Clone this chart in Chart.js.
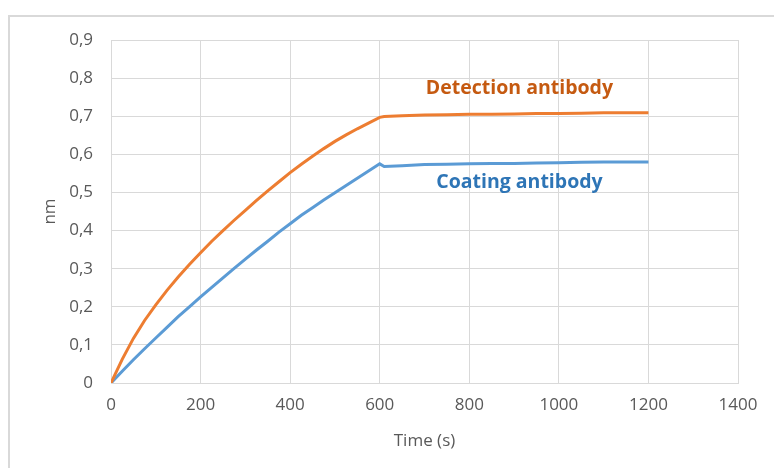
<!DOCTYPE html>
<html>
<head>
<meta charset="utf-8">
<script src="https://cdn.jsdelivr.net/npm/chart.js@4.4.1/dist/chart.umd.min.js"></script>
<style>
  html, body { margin: 0; padding: 0; background: #ffffff; }
  #wrap { position: relative; width: 774px; height: 468px; overflow: hidden; }
  #frame { position: absolute; left: 8px; top: 15px; width: 900px; height: 600px;
           border-top: 2px solid #d9d9d9; border-left: 2px solid #d9d9d9; box-sizing: border-box; }
  canvas { position: absolute; left: 0; top: 0; }
</style>
</head>
<body>
<div id="wrap">
  <div id="frame"></div>
  <canvas id="c" width="774" height="468"></canvas>
</div>
<script>
// Time (s)
const timeSec = [0, 25, 50, 75, 100, 125, 150, 175, 200, 225, 250, 275, 300, 325, 350, 375, 400, 425, 450, 475, 500, 525, 550, 575, 600, 610, 650, 700, 750, 800, 850, 900, 950, 1000, 1050, 1100, 1150, 1200];
// Detection antibody (nm)
const detection = [0, 0.062, 0.117, 0.164, 0.205, 0.243, 0.278, 0.311, 0.342, 0.372, 0.4, 0.427, 0.453, 0.479, 0.504, 0.528, 0.552, 0.574, 0.595, 0.615, 0.634, 0.651, 0.667, 0.682, 0.697, 0.699, 0.701, 0.703, 0.704, 0.705, 0.705, 0.706, 0.707, 0.707, 0.708, 0.709, 0.709, 0.709];
// Coating antibody (nm)
const coating = [0, 0.031, 0.061, 0.09, 0.118, 0.146, 0.174, 0.2, 0.226, 0.251, 0.276, 0.301, 0.325, 0.349, 0.372, 0.396, 0.418, 0.44, 0.46, 0.48, 0.499, 0.518, 0.537, 0.556, 0.575, 0.568, 0.57, 0.573, 0.574, 0.575, 0.576, 0.576, 0.577, 0.578, 0.579, 0.58, 0.58, 0.58];
const seriesNames = ['Detection antibody', 'Coating antibody'];
const xTicks = [0, 200, 400, 600, 800, 1000, 1200, 1400];
const yTicks = [0, 0.1, 0.2, 0.3, 0.4, 0.5, 0.6, 0.7, 0.8, 0.9];
const xTitle = 'Time (s)';
const yTitle = 'nm';

const toPts = (ys) => timeSec.map((t, i) => ({ x: t, y: ys[i] }));
const fmt = (v) => (Math.round(v * 10) / 10).toString().replace('.', ',');

const labelPlugin = {
  id: 'labels',
  afterDraw(chart) {
    const ctx = chart.ctx;
    const xs = chart.scales.x, ys = chart.scales.y, ca = chart.chartArea;
    ctx.save();
    ctx.textAlign = 'center';
    ctx.textBaseline = 'middle';
    ctx.font = 'bold 19.5px "Open Sans"';
    ctx.fillStyle = '#C55A11';
    ctx.fillText(seriesNames[0], xs.getPixelForValue(912), ys.getPixelForValue(0.772));
    ctx.fillStyle = '#2E75B6';
    ctx.fillText(seriesNames[1], xs.getPixelForValue(912), ys.getPixelForValue(0.525));
    ctx.font = '17px "Open Sans"';
    ctx.fillStyle = '#595959';
    ctx.fillText(xTitle, (ca.left + ca.right) / 2, 441);
    ctx.translate(50, (ca.top + ca.bottom) / 2);
    ctx.rotate(-Math.PI / 2);
    ctx.fillText(yTitle, 0, 0);
    ctx.restore();
  }
};

new Chart(document.getElementById('c'), {
  type: 'scatter',
  data: {
    datasets: [
      { label: seriesNames[0], data: toPts(detection), showLine: true, borderColor: '#ED7D31',
        borderWidth: 3, pointRadius: 0, tension: 0, fill: false },
      { label: seriesNames[1], data: toPts(coating), showLine: true, borderColor: '#5B9BD5',
        borderWidth: 3, pointRadius: 0, tension: 0, fill: false }
    ]
  },
  options: {
    responsive: false,
    animation: false,
    devicePixelRatio: 1,
    layout: { padding: { top: 40, right: 36, left: 0, bottom: 0 } },
    plugins: { legend: { display: false }, tooltip: { enabled: false } },
    scales: {
      x: {
        type: 'linear', min: 0, max: 1400,
        afterBuildTicks: (s) => { s.ticks = xTicks.map(v => ({ value: v })); },
        afterFit: (s) => { s.height = 85; },
        grid: { color: '#d9d9d9', lineWidth: 1, drawTicks: false },
        border: { color: '#d9d9d9', width: 1 },
        ticks: { color: '#595959', font: { family: 'Open Sans', size: 17 }, padding: 12, maxRotation: 0,
                 callback: (v) => String(v) }
      },
      y: {
        type: 'linear', min: 0, max: 0.9,
        afterBuildTicks: (s) => { s.ticks = yTicks.map(v => ({ value: v })); },
        afterFit: (s) => { s.width = 111; },
        grid: { color: '#d9d9d9', lineWidth: 1, drawTicks: false },
        border: { color: '#d9d9d9', width: 1 },
        ticks: { color: '#595959', font: { family: 'Open Sans', size: 17 }, padding: 18,
                 callback: (v) => fmt(v) }
      }
    }
  },
  plugins: [labelPlugin]
});
</script>
</body>
</html>
